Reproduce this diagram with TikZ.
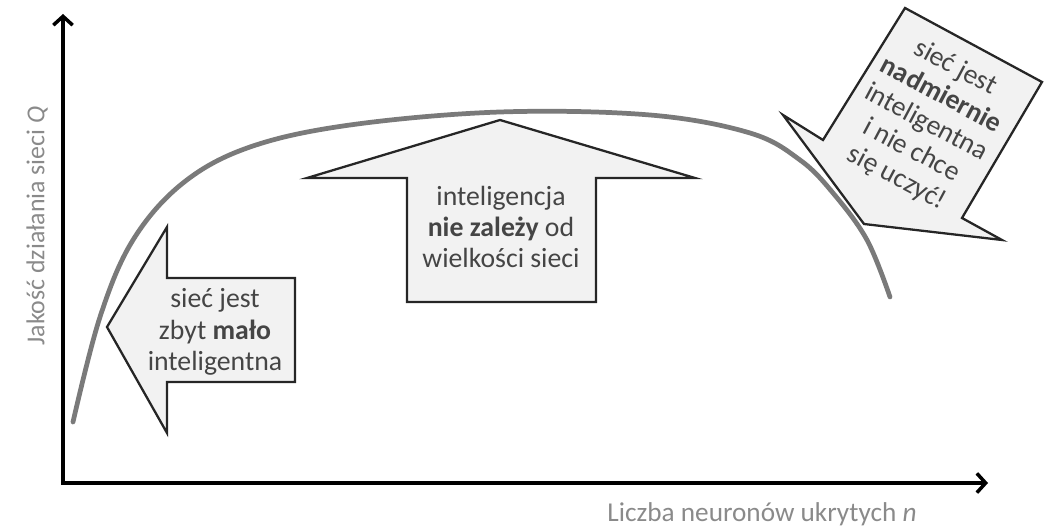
\documentclass[tikz,border=0pt]{standalone}
\usepackage{fontspec}
\setmainfont{Carlito}
\usetikzlibrary{arrows.meta}
\definecolor{txt}{HTML}{454545}
\definecolor{lbl}{HTML}{8A8A8A}
\definecolor{curvec}{HTML}{7A7A7A}
\definecolor{boxfill}{HTML}{F2F2F2}
\tikzset{
  axis/.style={line width=2.2pt, draw=black, -{Straight Barb[length=5pt,width=11pt,line width=2pt]}},
  bigarrow/.style={draw=black!85, line width=1.3pt, fill=boxfill, line join=miter},
  arrowtext/.style={text=txt, align=center, font=\fontsize{15.8}{17.8}\selectfont, inner sep=0pt},
  axislabel/.style={text=lbl, inner sep=0pt},
  qcurve/.style={draw=curvec, line width=2.7pt, line cap=round}
}
\begin{document}
\begin{tikzpicture}[x=0.02cm,y=-0.02cm]
\useasboundingbox (0,0) rectangle (1044,526);
% axes
\coordinate (O) at (63,483);
\coordinate (ytop) at (63,14);
\coordinate (xend) at (988,483);
\draw[axis] (O) -- (ytop);
\draw[axis] ([xshift=-1.1pt]O) -- (xend);
% curve
\draw[qcurve] plot[smooth, tension=0.6] coordinates {(73,422) (100,317) (133,240) (183,183) (250,147) (350,125) (500,112) (650,115) (750,133) (800,160) (833,193) (867,240) (890,297)};
% left arrow
\draw[bigarrow] (107,327) -- (167,227) -- (167,278) -- (295,278) -- (295,382) -- (167,382) -- (167,433) -- cycle;
\node[arrowtext] (low) at (215,332) {sieć jest\\zbyt \textbf{mało}\\inteligentna};
% up arrow
\draw[bigarrow] (500,120) -- (695,178) -- (596,178) -- (596,302) -- (407,302) -- (407,178) -- (307,178) -- cycle;
\node[arrowtext] (mid) at (501,227) {inteligencja\\\textbf{nie zależy} od\\wielkości sieci};
% right rotated arrow
\draw[bigarrow] (905,8) -- (1042,82) -- (962,218) -- (1002,240) -- (864,224) -- (783,115) -- (823,140) -- cycle;
\node[arrowtext, rotate=-28] (high) at (926,123) {sieć jest\\\textbf{nadmiernie}\\inteligentna\\i nie chce\\się uczyć!};
% axis labels
\node[axislabel, font=\fontsize{15.5}{17}\selectfont] (xl) at (762,514) {Liczba neuronów ukrytych \textit{n}};
\node[axislabel, font=\fontsize{14.7}{17}\selectfont, rotate=90] (yl) at (37,226) {Jakość działania sieci \textit{Q}};
\end{tikzpicture}
\end{document}
